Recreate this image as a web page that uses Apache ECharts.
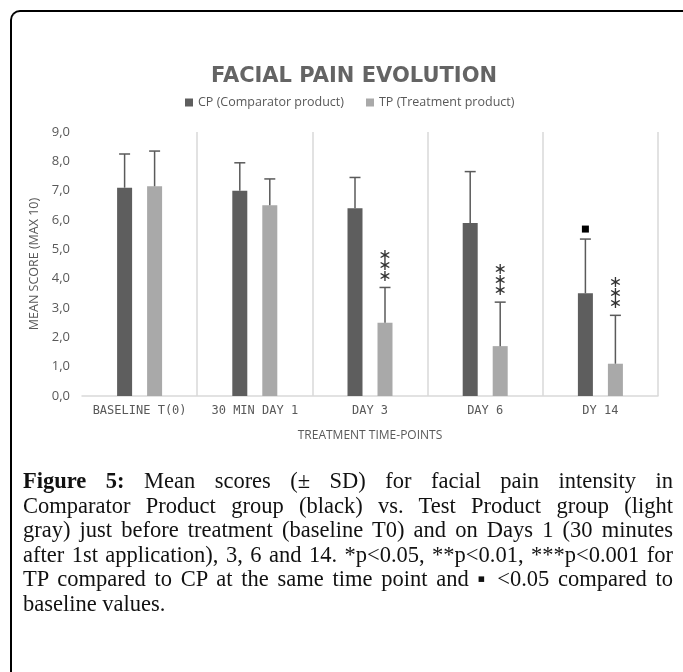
<!DOCTYPE html>
<html>
<head>
<meta charset="utf-8">
<script src="https://cdn.jsdelivr.net/npm/echarts@6/dist/echarts.min.js"></script>
<style>
  html, body { margin: 0; padding: 0; background: #fff; }
  #wrap { position: relative; width: 683px; height: 672px; overflow: hidden; }
  #frame {
    position: absolute; left: 10px; top: 10px; width: 700px; height: 700px;
    border-left: 2px solid #000; border-top: 2px solid #000;
    border-top-left-radius: 10px;
  }
  #echart_pain { position: absolute; left: 0; top: 0; width: 683px; height: 672px; }
  #caption {
    position: absolute; left: 23px; top: 469px; width: 650px;
    font-family: "Liberation Serif", serif; font-size: 22.5px; line-height: 24.5px; color: #111;
  }
  #caption div { white-space: nowrap; text-align: justify; text-align-last: justify; }
  #caption div.last { text-align: left; text-align-last: left; }
</style>
</head>
<body>
<div id="wrap">
  <div id="frame"></div>
  <div id="echart_pain"></div>
  <div id="caption">
    <div><b>Figure 5:</b> Mean scores (± SD) for facial pain intensity in</div>
    <div>Comparator Product group (black) vs. Test Product group (light</div>
    <div>gray) just before treatment (baseline T0) and on Days 1 (30 minutes</div>
    <div>after 1st application), 3, 6 and 14. *p&lt;0.05, **p&lt;0.01, ***p&lt;0.001 for</div>
    <div>TP compared to CP at the same time point and ▪ &lt;0.05 compared to</div>
    <div class="last">baseline values.</div>
  </div>
</div>
<script>
var categories = ["BASELINE T(0)", "30 MIN DAY 1", "DAY 3", "DAY 6", "DY 14"];
var cpMean = [7.1, 7.0, 6.4, 5.9, 3.5];
var tpMean = [7.15, 6.5, 2.5, 1.7, 1.1];
var cpSD = [1.15, 0.95, 1.05, 1.75, 1.85];
var tpSD = [1.2, 0.9, 1.2, 1.5, 1.65];
// number of stars over TP, baseline mark over CP
var tpStars = [0, 0, 3, 3, 3];
var cpMarks = [0, 0, 0, 0, 1];

var barW = 15;
var textGray = "#595959";

function errData(mean, sd, marks) {
  var out = [];
  for (var i = 0; i < mean.length; i++) {
    out.push([i, mean[i], mean[i] + sd[i], marks[i]]);
  }
  return out;
}

function errRender(offset, markType) {
  return function(params, api) {
    var base = api.coord([api.value(0), api.value(1)]);
    var top = api.coord([api.value(0), api.value(2)]);
    var x = base[0] + offset;
    var st = { stroke: "#5a5a5a", lineWidth: 1.5 };
    var children = [
      { type: "line", shape: { x1: x, y1: base[1], x2: x, y2: top[1] }, style: st },
      { type: "line", shape: { x1: x - 5.5, y1: top[1], x2: x + 5.5, y2: top[1] }, style: st }
    ];
    var n = api.value(3);
    if (markType === "star") {
      for (var k = 0; k < n; k++) {
        children.push({
          type: "text",
          style: {
            text: "∗", x: x, y: top[1] - 11 - k * 10.5,
            fontSize: 16, fontFamily: "DejaVu Sans", fill: "#333",
            align: "center", verticalAlign: "middle"
          }
        });
      }
    } else if (n > 0) {
      children.push({
        type: "rect",
        shape: { x: x - 3.5, y: top[1] - 13.5, width: 7, height: 7 },
        style: { fill: "#000" }
      });
    }
    return { type: "group", children: children };
  };
}

var myChart = echarts.init(document.getElementById("echart_pain"));
myChart.setOption({
  animation: false,
  title: {
    text: "FACIAL PAIN EVOLUTION",
    left: 349,
    textAlign: "center",
    top: 61,
    textStyle: {
      fontFamily: "DejaVu Sans",
      fontSize: 21,
      fontWeight: "bold",
      color: "#646464"
    }
  },
  legend: {
    data: ["CP (Comparator product)", "TP (Treatment product)"],
    left: 180,
    top: 91,
    icon: "rect",
    itemWidth: 8,
    itemHeight: 8,
    itemGap: 22,
    textStyle: { fontFamily: "Open Sans", fontSize: 12.5, color: textGray }
  },
  grid: { left: 82, right: 25, top: 132, bottom: 276 },
  xAxis: {
    type: "category",
    data: categories,
    name: "TREATMENT TIME-POINTS",
    nameLocation: "middle",
    nameGap: 34,
    nameTextStyle: { fontFamily: "Open Sans", fontSize: 12, color: textGray },
    axisLine: { lineStyle: { color: "#d9d9d9", width: 1.5 } },
    axisTick: { show: false },
    axisLabel: {
      interval: 0,
      margin: 9,
      fontFamily: "DejaVu Sans Mono",
      fontSize: 12,
      color: textGray
    },
    splitLine: {
      show: true,
      interval: 0,
      showMinLine: false,
      lineStyle: { color: "#d9d9d9", width: 1.5 }
    }
  },
  yAxis: {
    type: "value",
    min: 0,
    max: 9,
    interval: 1,
    name: "MEAN SCORE (MAX 10)",
    nameLocation: "middle",
    nameGap: 38,
    nameTextStyle: { fontFamily: "Open Sans", fontSize: 12.5, color: textGray },
    axisLine: { show: false },
    axisTick: { show: false },
    splitLine: { show: false },
    axisLabel: {
      margin: 12,
      fontFamily: "Open Sans",
      fontSize: 13,
      color: textGray,
      formatter: function(val) {
        return val.toFixed(1).replace(".", ",");
      }
    }
  },
  series: [
    {
      name: "CP (Comparator product)",
      type: "bar",
      barWidth: barW,
      barGap: "100%",
      itemStyle: { color: "#5e5e5e" },
      data: cpMean
    },
    {
      name: "TP (Treatment product)",
      type: "bar",
      barWidth: barW,
      barGap: "100%",
      itemStyle: { color: "#a9a9a9" },
      data: tpMean
    },
    {
      type: "custom",
      renderItem: errRender(-barW, "square"),
      data: errData(cpMean, cpSD, cpMarks),
      z: 5
    },
    {
      type: "custom",
      renderItem: errRender(barW, "star"),
      data: errData(tpMean, tpSD, tpStars),
      z: 5
    }
  ]
});
</script>
</body>
</html>
